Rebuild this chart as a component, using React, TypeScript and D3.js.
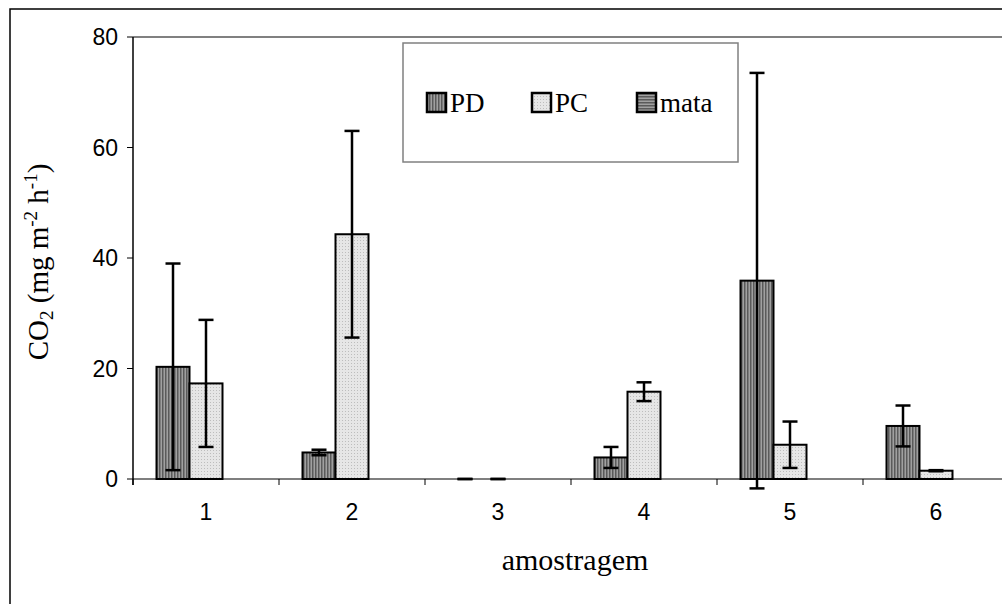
import React from "react";
import * as d3 from "d3";

// Sampling rounds and CO2 flux per land-use class (mg m-2 h-1)
const categories = ["1", "2", "3", "4", "5", "6"];
const seriesNames = ["PD", "PC", "mata"];
const pdValues = [20.3, 4.8, 0, 3.9, 35.9, 9.6];
const pdErrors = [18.7, 0.5, 0, 1.9, 37.6, 3.7];
const pcValues = [17.3, 44.3, 0, 15.8, 6.2, 1.5];
const pcErrors = [11.5, 18.7, 0, 1.7, 4.2, 0.1];
const mataValues: (number | null)[] = [null, null, null, null, null, null];
const mataErrors: (number | null)[] = [null, null, null, null, null, null];
const yTicks = [0, 20, 40, 60, 80];

const W = 1002;
const H = 604;
const left = 133;
const right = 1009;
const top = 37;
const bottom = 479;

const serif = "'Liberation Serif', 'Times New Roman', serif";
const sans = "'Liberation Sans', Arial, sans-serif";

const fills: Record<string, string> = {
  PD: "url(#patPD)",
  PC: "url(#patPC)",
  mata: "url(#patMata)",
};

export default function App() {
  const x0 = d3
    .scaleBand<string>()
    .domain(categories)
    .range([left, right])
    .paddingInner(0.322)
    .paddingOuter(0.161);
  const x1 = d3
    .scaleBand<string>()
    .domain(seriesNames)
    .range([0, x0.bandwidth()]);
  const y = d3.scaleLinear().domain([0, 80]).range([bottom, top]);

  const valueSets: Record<string, (number | null)[]> = {
    PD: pdValues,
    PC: pcValues,
    mata: mataValues,
  };
  const errorSets: Record<string, (number | null)[]> = {
    PD: pdErrors,
    PC: pcErrors,
    mata: mataErrors,
  };

  const step = x0.step();
  const boundaries = categories.map((c) => (x0(c) as number) - (step - x0.bandwidth()) / 2);
  boundaries.push(boundaries[boundaries.length - 1] + step);

  const capHalf = 7.5;

  const legendItems = [
    { name: "PD", x: 427 },
    { name: "PC", x: 532 },
    { name: "mata", x: 637 },
  ];

  return (
    <div style={{ position: "fixed", left: 0, top: 0 }}>
      <svg width={W} height={H} style={{ display: "block", background: "#fff" }}>
        <defs>
          <pattern id="patPD" width="3" height="4" patternUnits="userSpaceOnUse">
            <rect width="3" height="4" fill="#a0a0a0" />
            <rect width="1.5" height="4" fill="#5a5a5a" />
          </pattern>
          <pattern id="patPC" width="3" height="3" patternUnits="userSpaceOnUse">
            <rect width="3" height="3" fill="#e6e6e6" />
            <rect width="1" height="1" fill="#bdbdbd" />
          </pattern>
          <pattern id="patMata" width="4" height="3" patternUnits="userSpaceOnUse">
            <rect width="4" height="3" fill="#a0a0a0" />
            <rect width="4" height="1.5" fill="#5a5a5a" />
          </pattern>
        </defs>

        {/* outer frame */}
        <rect x={10} y={9} width={1000} height={600} fill="#fff" stroke="#000" strokeWidth={1.5} />

        {/* plot area border */}
        <line x1={left} x2={W + 5} y1={top} y2={top} stroke="#808080" strokeWidth={2} />

        {/* bars */}
        {categories.map((c, i) =>
          seriesNames.map((s) => {
            const v = valueSets[s][i];
            if (v === null || v <= 0) return null;
            const bx = (x0(c) as number) + (x1(s) as number);
            return (
              <rect
                key={`b-${c}-${s}`}
                x={bx}
                y={y(v)}
                width={x1.bandwidth()}
                height={y(0) - y(v)}
                fill={fills[s]}
                stroke="#000"
                strokeWidth={2}
              />
            );
          })
        )}

        {/* error bars */}
        {categories.map((c, i) =>
          seriesNames.map((s) => {
            const v = valueSets[s][i];
            const e = errorSets[s][i];
            if (v === null || e === null) return null;
            const cx = (x0(c) as number) + (x1(s) as number) + x1.bandwidth() / 2;
            const yHi = y(v + e);
            const yLo = y(v - e);
            return (
              <g key={`e-${c}-${s}`} stroke="#000" strokeWidth={2.5}>
                <line x1={cx} x2={cx} y1={yHi} y2={yLo} />
                <line x1={cx - capHalf} x2={cx + capHalf} y1={yHi} y2={yHi} />
                <line x1={cx - capHalf} x2={cx + capHalf} y1={yLo} y2={yLo} />
              </g>
            );
          })
        )}

        {/* x axis */}
        <line x1={left} x2={W + 5} y1={bottom} y2={bottom} stroke="#000" strokeWidth={1.2} />
        {boundaries.map((bx, i) => (
          <line key={`xt-${i}`} x1={bx} x2={bx} y1={bottom} y2={bottom + 6} stroke="#000" strokeWidth={1} />
        ))}
        {categories.map((c) => (
          <text
            key={`xl-${c}`}
            x={(x0(c) as number) + x0.bandwidth() / 2}
            y={520}
            textAnchor="middle"
            fontFamily={sans}
            fontSize={23}
            fill="#000"
          >
            {c}
          </text>
        ))}

        {/* y axis */}
        <line x1={left} x2={left} y1={top} y2={bottom + 6} stroke="#000" strokeWidth={1.5} />
        {yTicks.map((t) => (
          <g key={`yt-${t}`}>
            <line x1={left - 6} x2={left} y1={y(t)} y2={y(t)} stroke="#000" strokeWidth={1} />
            <text
              x={118}
              y={y(t)}
              dy="0.35em"
              textAnchor="end"
              fontFamily={sans}
              fontSize={23}
              fill="#000"
            >
              {t}
            </text>
          </g>
        ))}

        {/* axis titles */}
        <text
          transform={`translate(48, ${(top + bottom) / 2 + 4}) rotate(-90)`}
          textAnchor="middle"
          fontFamily={serif}
          fontSize={29}
          fill="#000"
        >
          <tspan>CO</tspan>
          <tspan fontSize={19} dy={5}>2</tspan>
          <tspan dy={-5}> (mg m</tspan>
          <tspan fontSize={19} dy={-11}>-2</tspan>
          <tspan dy={11}> h</tspan>
          <tspan fontSize={19} dy={-11}>-1</tspan>
          <tspan dy={11}>)</tspan>
        </text>
        <text
          x={575}
          y={570}
          textAnchor="middle"
          fontFamily={serif}
          fontSize={30}
          fill="#000"
        >
          amostragem
        </text>

        {/* legend */}
        <rect x={403} y={43} width={335} height={119} fill="#fff" stroke="#808080" strokeWidth={1.5} />
        {legendItems.map((it) => (
          <g key={`lg-${it.name}`}>
            <rect x={it.x} y={93} width={19} height={19} fill={fills[it.name]} stroke="#000" strokeWidth={2.5} />
            <text x={it.x + 23} y={112} fontFamily={serif} fontSize={27} fill="#000">
              {it.name}
            </text>
          </g>
        ))}
      </svg>
    </div>
  );
}
